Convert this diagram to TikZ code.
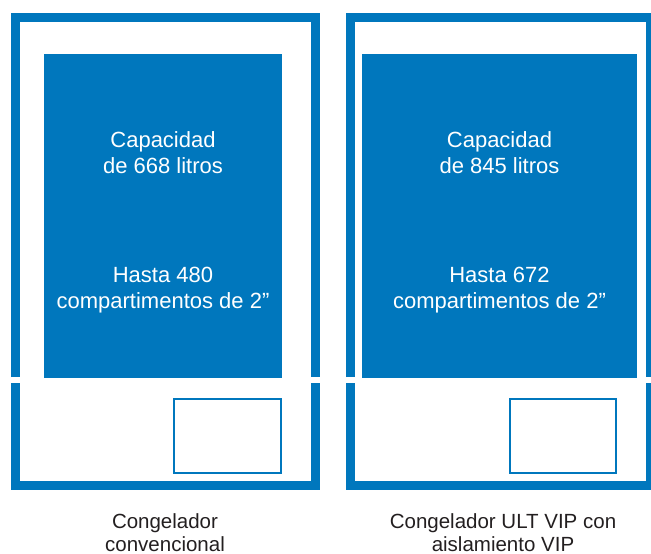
\documentclass[tikz,border=0pt]{standalone}
\usepackage{fontspec}
\setmainfont{Liberation Sans}
\definecolor{frblue}{RGB}{0,119,189}
\definecolor{capgray}{RGB}{35,31,32}

\tikzset{
  wall/.style={draw=frblue, line width=9pt},
  store/.style={fill=frblue},
  panel/.style={draw=frblue, line width=2pt},
  intext/.style={text=white, align=center, anchor=base, inner sep=0pt,
    font=\fontsize{22}{26}\selectfont},
  captext/.style={text=capgray, align=center, anchor=base, inner sep=0pt,
    font=\fontsize{20.5}{23}\selectfont}
}

\begin{document}
\begin{tikzpicture}[x=1pt,y=-1pt]
\useasboundingbox (0,0) rectangle (651,554);
% conventional freezer
\draw[wall] (15.5,377) -- (15.5,17.5) -- (315.5,17.5) -- (315.5,377);
\draw[wall] (15.5,383) -- (15.5,485.5) -- (315.5,485.5) -- (315.5,383);
\fill[store] (44,54) rectangle (282,378);
\draw[panel] (174,399) rectangle (281,473);
\node[intext](1) at (163,173) {Capacidad\\de 668 litros};
\node[intext](2) at (163,308) {Hasta 480\\compartimentos de 2”};
\node[captext](3) at (165,551) {Congelador\\convencional};
% VIP freezer
\draw[wall] (350.5,377) -- (350.5,17.5) -- (650.5,17.5) -- (650.5,377);
\draw[wall] (350.5,383) -- (350.5,485.5) -- (650.5,485.5) -- (650.5,383);
\fill[store] (362,54) rectangle (637,378);
\draw[panel] (510,399) rectangle (616,473);
\node[intext](4) at (499.5,173) {Capacidad\\de 845 litros};
\node[intext](5) at (499.5,308) {Hasta 672\\compartimentos de 2”};
\node[captext](6) at (503,551) {Congelador ULT VIP con\\aislamiento VIP};
\end{tikzpicture}
\end{document}
